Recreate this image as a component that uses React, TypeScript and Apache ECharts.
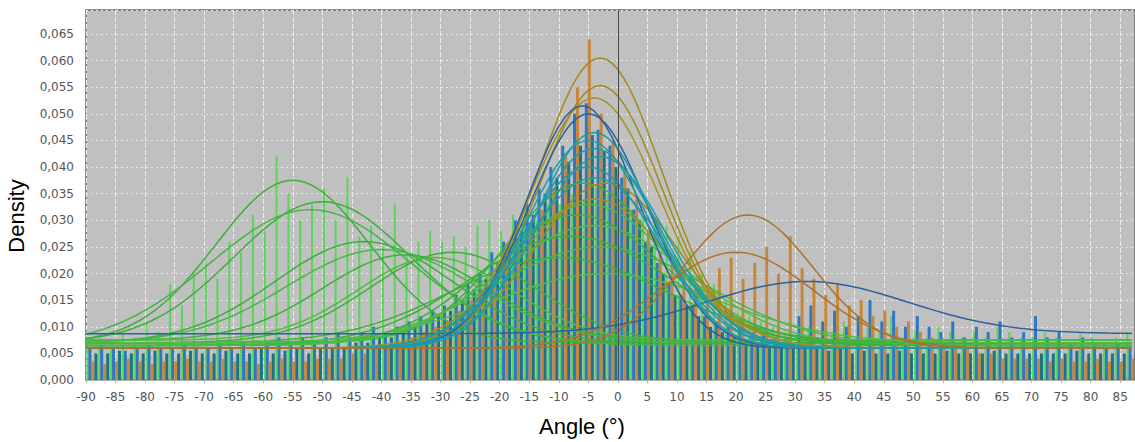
import React, { useEffect, useRef } from "react";
import * as echarts from "echarts";

// Histogram bin centres (degrees)
const binCenters = [
  -89, -87, -85, -83, -81, -79, -77, -75, -73, -71,
  -69, -67, -65, -63, -61, -59, -57, -55, -53, -51,
  -49, -47, -45, -43, -41, -39, -37, -35, -33, -31,
  -29, -27, -25, -23, -21, -19, -17, -15, -13, -11,
  -9, -7, -5, -3, -1, 1, 3, 5, 7, 9,
  11, 13, 15, 17, 19, 21, 23, 25, 27, 29,
  31, 33, 35, 37, 39, 41, 43, 45, 47, 49,
  51, 53, 55, 57, 59, 61, 63, 65, 67, 69,
  71, 73, 75, 77, 79, 81, 83, 85, 87,
];

// Histogram densities, in thousandths
const greenBars = [
  7, 8, 6, 9, 8, 11, 9, 18, 14, 20,
  22, 19, 26, 24, 31, 28, 42, 35, 30, 33,
  36, 30, 38, 27, 29, 25, 33, 24, 26, 28,
  26, 27, 25, 29, 30, 28, 31, 32, 30, 33,
  33, 35, 34, 36, 35, 33, 32, 31, 30, 29,
  27, 24, 20, 18, 15, 13, 12, 11, 10, 9,
  9, 10, 8, 9, 11, 8, 10, 9, 12, 8,
  9, 8, 10, 9, 8, 9, 8, 10, 9, 8,
  8, 9, 8, 7, 9, 8, 7, 8, 9,
];
const blueBars = [
  6, 6.5, 6, 5.5, 6, 6.5, 6, 6, 6.5, 6,
  6, 7, 6, 7, 6, 7, 8, 7, 8, 7,
  8, 9, 8, 9, 10, 9, 10, 11, 12, 13,
  14, 16, 18, 20, 24, 26, 30, 33, 36, 40,
  44, 50, 52, 47, 44, 38, 32, 26, 22, 18,
  16, 14, 12, 11, 10, 10, 9, 9, 8, 8,
  12, 14, 11, 13, 10, 12, 15, 11, 13, 10,
  12, 10, 9, 11, 8, 10, 9, 11, 8, 9,
  12, 8, 9, 7, 8, 7, 6, 7, 6,
];
const tealBars = [
  5, 5, 5.5, 5, 5, 5.5, 5, 5, 5.5, 5,
  5, 5.5, 5, 5, 6, 5, 5.5, 6, 5, 6,
  6, 6, 7, 7, 8, 8, 9, 10, 11, 12,
  13, 15, 17, 19, 22, 25, 28, 31, 35, 38,
  41, 44, 46, 43, 40, 36, 30, 25, 20, 16,
  14, 12, 10, 9, 8, 7, 7, 6, 6, 6,
  6, 6, 5.5, 6, 5, 5.5, 5, 5, 5.5, 5,
  5, 5, 5.5, 5, 5, 5, 5.5, 5, 5, 5,
  5, 5, 5, 5.5, 5, 5, 5, 5, 5,
];
const orangeBars = [
  3.5, 3, 3.5, 4, 3.5, 3, 3.5, 3.5, 4, 3.5,
  3.5, 4, 3.5, 3.5, 3, 3.5, 4, 3.5, 3.5, 4,
  4, 4, 5, 5, 6, 6, 7, 8, 9, 10,
  11, 13, 15, 17, 20, 23, 26, 29, 32, 36,
  42, 55, 64, 50, 45, 40, 34, 28, 24, 22,
  20, 18, 17, 21, 23, 19, 22, 25, 20, 27,
  21, 19, 16, 18, 14, 15, 12, 13, 10, 11,
  9, 8, 7, 6, 6, 5, 5, 4, 4, 4,
  4, 3.5, 4, 3.5, 3.5, 4, 3.5, 3.5, 4,
];

// Fitted density curves: centre (deg), peak (thousandths), spread (deg), floor (thousandths)
const curveMeans = [
  -55, -50, -52, -43, -40, -36, -31, -28,
  -6, -5, -7, -4, -8, -3, -10, -2,
  -3, -3, -4, -2, -4,
  -6, -5, 32,
  -4, -5, -4, -3, -5, -4,
  22, 20,
];
const curvePeaks = [
  37.5, 33.5, 32, 26, 24.5, 23.5, 23, 24,
  37, 33, 31, 29, 27, 25, 23, 20,
  60.5, 55.3, 53, 37, 34,
  51.5, 50, 18.5,
  46.5, 45, 43.5, 42, 40, 38,
  31, 24,
];
const curveSpreads = [
  13, 15, 17, 15, 16, 14, 13, 14,
  13, 14, 15, 16, 17, 18, 18, 19,
  10.5, 10.5, 11, 12, 13,
  9.5, 10, 17,
  10, 10.5, 11, 11, 11.5, 12,
  11, 13,
];
const curveFloors = [
  7, 7, 6.5, 7, 7, 7.5, 7.5, 7,
  7, 7, 6.5, 6.5, 6.5, 6.5, 7, 7,
  6, 6, 6, 6, 6,
  6, 6, 8.7,
  6, 6, 6, 6, 6, 6,
  6, 6,
];
const curveColors = [
  "#3fae3f", "#3fae3f", "#45b545", "#3fae3f", "#48b848", "#3fae3f", "#50bb45", "#3fae3f",
  "#3fae3f", "#48b848", "#3fae3f", "#50bb45", "#3fae3f", "#48b848", "#3fae3f", "#50bb45",
  "#a08a1e", "#a08a1e", "#a8901e", "#a08a1e", "#a8901e",
  "#2b5f9e", "#2b5f9e", "#2b5f9e",
  "#1f9cab", "#1f9cab", "#2398a8", "#1f9cab", "#2398a8", "#1f9cab",
  "#a8742e", "#a8742e",
];

const xTickMin = -90;
const xTickMax = 87.5;

export default function App() {
  const ref = useRef<HTMLDivElement>(null);
  useEffect(() => {
    if (!ref.current) return;
    const chart = echarts.init(ref.current, undefined, { renderer: "svg" });

    const barDefs = [
      { name: "green", vals: greenBars, color: "#4cd84c", width: 2, opacity: 0.9 },
      { name: "blue", vals: blueBars, color: "#2e78c2", width: 3, opacity: 1 },
      { name: "orange", vals: orangeBars, color: "#c8863a", width: 3, opacity: 1 },
      { name: "teal", vals: tealBars, color: "#1b7385", width: 3, opacity: 1 },
    ];
    const barSeries = barDefs.map((b) => ({
      type: "bar",
      name: b.name,
      data: binCenters.map((c, i) => [c, b.vals[i] / 1000]),
      barWidth: b.width,
      barGap: "0%",
      itemStyle: { color: b.color, opacity: b.opacity },
      silent: true,
    }));

    const xs: number[] = [];
    for (let x = xTickMin; x <= xTickMax; x += 1) xs.push(x);
    const curveSeries = curveMeans.map((mu, k) => ({
      type: "line",
      showSymbol: false,
      silent: true,
      data: xs.map((x) => {
        const amp = curvePeaks[k] - curveFloors[k];
        const s = curveSpreads[k];
        const v = curveFloors[k] + amp * Math.exp(-((x - mu) * (x - mu)) / (2 * s * s));
        return [x, v / 1000];
      }),
      lineStyle: { color: curveColors[k], width: 1.5 },
    }));

    const zeroLine = {
      type: "line",
      data: [],
      silent: true,
      markLine: {
        silent: true,
        symbol: "none",
        label: { show: false },
        lineStyle: { color: "#4a4a4a", width: 1, type: "solid" },
        data: [{ xAxis: 0 }],
      },
    };

    chart.setOption({
      animation: false,
      grid: {
        left: 86,
        right: 0,
        top: 10,
        bottom: 62,
        show: true,
        backgroundColor: "#c0c0c0",
        borderColor: "#6a6a6a",
        borderWidth: 1.5,
      },
      xAxis: {
        type: "value",
        min: xTickMin,
        max: xTickMax,
        interval: 5,
        axisLine: { show: true, lineStyle: { color: "#b0b0b0" } },
        axisTick: { show: true, length: 3, lineStyle: { color: "#b0b0b0" } },
        axisLabel: {
          showMaxLabel: false,
          color: "#555",
          fontFamily: "DejaVu Sans",
          fontSize: 12,
          margin: 11,
          formatter: (v: number) => String(v),
        },
        splitLine: { show: true, lineStyle: { color: "#ececec", type: [5, 2], width: 1 } },
      },
      yAxis: {
        type: "value",
        min: 0,
        max: 0.0695,
        interval: 0.005,
        axisLine: { show: true, lineStyle: { color: "#6a6a6a" } },
        axisTick: { show: false },
        axisLabel: {
          showMaxLabel: false,
          color: "#555",
          fontFamily: "DejaVu Sans",
          fontSize: 12,
          margin: 12,
          formatter: (v: number) => v.toFixed(3).replace(".", ","),
        },
        splitLine: { show: true, lineStyle: { color: "#e6e6e6", type: [2, 3], width: 1 } },
      },
      graphic: [
        {
          type: "text",
          x: 16,
          y: 216,
          rotation: Math.PI / 2,
          style: {
            text: "Density",
            align: "center",
            verticalAlign: "middle",
            fontFamily: "Liberation Sans, Arial, sans-serif",
            fontSize: 22,
            fill: "#000",
          },
        },
        {
          type: "text",
          x: 582,
          y: 426,
          style: {
            text: "Angle (°)",
            align: "center",
            verticalAlign: "middle",
            fontFamily: "Liberation Sans, Arial, sans-serif",
            fontSize: 22,
            fill: "#000",
          },
        },
      ],
      series: [...barSeries, ...curveSeries, zeroLine],
    });
    return () => chart.dispose();
  }, []);
  return (
    <div
      ref={ref}
      style={{ position: "absolute", left: 0, top: 0, width: 1135, height: 442, background: "#fff" }}
    />
  );
}
